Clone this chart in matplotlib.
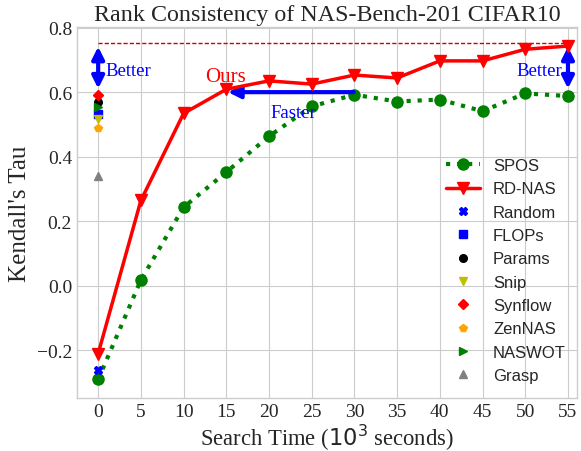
import matplotlib
matplotlib.use("Agg")
import matplotlib.pyplot as plt

plt.style.use("seaborn-v0_8-whitegrid")
plt.rcParams['font.family'] = ['Liberation Serif', 'DejaVu Sans']

time = [0, 5, 10, 15, 20, 25, 30, 35, 40, 45, 50, 55]
spos = [-0.29, 0.018, 0.244, 0.353, 0.464, 0.557, 0.593, 0.572, 0.578, 0.542, 0.597, 0.589]
rdnas = [-0.21, 0.265, 0.535, 0.610, 0.636, 0.626, 0.654, 0.645, 0.698, 0.698, 0.734, 0.744]

baseline_names = ["Random", "FLOPs", "Params", "Snip", "Synflow", "ZenNAS", "NASWOT", "Grasp"]
baseline_vals = [-0.262, 0.534, 0.570, 0.518, 0.592, 0.490, 0.555, 0.340]
baseline_markers = ["X", "s", "o", "v", "D", "p", ">", "^"]
baseline_colors = ["blue", "blue", "black", "y", "red", "orange", "green", "gray"]

best_line = 0.752

fig = plt.figure(figsize=(5.81, 4.52), dpi=100)
ax = fig.add_axes([0.1325, 0.117, 0.8605, 0.821])

ax.plot(time, spos, color='green', linestyle=':', linewidth=3, marker='o', markersize=8, label='SPOS', zorder=3)
ax.plot(time, rdnas, color='red', linestyle='-', linewidth=2.5, marker='v', markersize=8, label='RD-NAS', zorder=4)
for n, v, m, c in zip(baseline_names, baseline_vals, baseline_markers, baseline_colors):
    ax.plot([0], [v], linestyle='none', marker=m, color=c, markersize=5.5, label=n, zorder=5)

ax.plot([time[0], time[-1]], [best_line, best_line], color='#cc0000', linestyle=(0, (3, 1.5)), linewidth=1, zorder=2)

arrow_kw = dict(arrowstyle='<|-|>', color='blue', lw=3, mutation_scale=18, shrinkA=0, shrinkB=0)
ax.annotate('', xy=(0, 0.612), xytext=(0, 0.742), arrowprops=arrow_kw)
ax.annotate('', xy=(55, 0.612), xytext=(55, 0.742), arrowprops=arrow_kw)
ax.annotate('', xy=(15.2, 0.601), xytext=(29.9, 0.601),
            arrowprops=dict(arrowstyle='-|>', color='blue', lw=3, mutation_scale=18, shrinkA=0, shrinkB=0))

ax.text(0.8, 0.668, 'Better', color='blue', fontsize=13.5, ha='left', va='center')
ax.text(54.3, 0.668, 'Better', color='blue', fontsize=13.5, ha='right', va='center')
ax.text(22.8, 0.539, 'Faster', color='blue', fontsize=13.5, ha='center', va='center')
ax.text(14.9, 0.651, 'Ours', color='red', fontsize=15, ha='center', va='center')

ax.set_xlim(-2.48, 56.05)
ax.set_ylim(-0.348, 0.803)
ax.set_xticks(time)
ax.set_yticks([-0.2, 0.0, 0.2, 0.4, 0.6, 0.8])
ax.tick_params(labelsize=14)
ax.set_title('Rank Consistency of NAS-Bench-201 CIFAR10', fontsize=17.3, pad=5)
ax.set_xlabel('Search Time ($10^3$ seconds)', fontsize=16.3, labelpad=1)
ax.set_ylabel("Kendall's Tau", fontsize=18)

leg = ax.legend(loc='lower right', bbox_to_anchor=(1.008, 0.0), frameon=False,
                prop={'family': 'Liberation Sans', 'size': 12}, labelspacing=0.5)

fig.savefig('out.png', dpi=100)
